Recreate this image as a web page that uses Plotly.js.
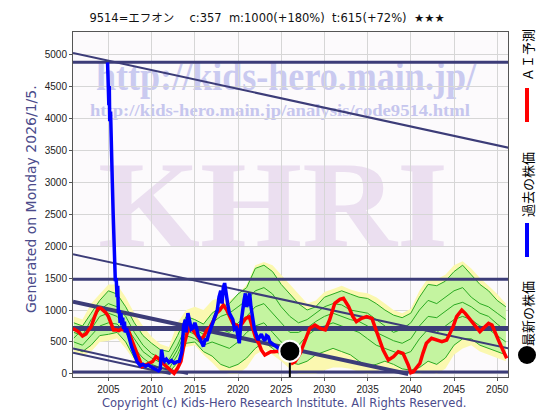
<!DOCTYPE html>
<html><head><meta charset="utf-8">
<script src="https://cdn.plot.ly/plotly-3.0.1.min.js"></script>
<style>html,body{margin:0;padding:0;background:#fff}#chart{width:560px;height:420px}</style>
</head><body><div id="chart"></div>
<script>
// ---- past price (blue) ----
const priceYears = [2004.90,2004.95,2005.00,2005.05,2005.10,2005.15,2005.25,2005.35,2005.45,2005.55,2005.65,2005.72,2005.80,2005.90,2006.00,2006.08,2006.15,2006.25,2006.35,2006.45,2006.55,2006.65,2006.75,2006.85,2006.95,2007.10,2007.30,2007.50,2007.70,2007.90,2008.10,2008.30,2008.50,2008.70,2009.00,2009.30,2009.60,2009.90,2010.20,2010.50,2010.80,2011.00,2011.15,2011.30,2011.50,2011.70,2012.00,2012.30,2012.60,2012.90,2013.20,2013.50,2013.70,2013.90,2014.00,2014.20,2014.40,2014.60,2014.80,2015.00,2015.20,2015.40,2015.60,2015.80,2016.00,2016.20,2016.40,2016.60,2016.80,2017.00,2017.20,2017.40,2017.60,2017.80,2018.00,2018.15,2018.30,2018.45,2018.60,2018.80,2019.00,2019.20,2019.40,2019.60,2019.80,2020.00,2020.15,2020.30,2020.50,2020.70,2020.85,2021.00,2021.15,2021.35,2021.50,2021.70,2021.90,2022.10,2022.30,2022.50,2022.70,2022.90,2023.10,2023.30,2023.50,2023.70,2023.90,2024.10,2024.30,2024.50,2024.70,2024.90,2025.20];
const priceValues = [4870,4300,4650,4200,4500,3950,4100,3700,3000,2500,2100,1800,1450,1500,1200,1380,950,1000,800,950,760,880,700,820,650,720,600,500,420,350,260,200,160,130,150,120,140,110,90,70,50,80,380,250,200,230,180,210,170,190,200,350,750,850,650,950,800,700,720,800,720,600,550,480,430,550,520,620,700,780,850,950,1000,1200,1300,1100,1350,1420,1250,1100,950,900,850,700,720,600,480,750,1000,1150,1260,1050,1100,1260,1050,850,700,620,530,580,620,560,520,600,580,500,480,460,430,427,400,380,370];

// ---- AI forecast (red) ----
const aiYears = [2000.9,2001.5,2002.0,2002.4,2002.7,2003.0,2003.4,2003.8,2004.1,2004.4,2004.7,2005.0,2005.3,2005.6,2005.9,2006.2,2006.5,2006.8,2007.1,2007.4,2007.7,2008.0,2008.3,2008.6,2008.9,2009.3,2009.7,2010.1,2010.5,2010.9,2011.3,2011.7,2012.1,2012.6,2013.0,2013.4,2013.7,2014.1,2014.45,2014.8,2015.2,2015.6,2016.0,2016.4,2016.8,2017.2,2017.5,2017.9,2018.3,2018.7,2019.1,2019.4,2019.8,2020.2,2020.5,2020.9,2021.3,2021.6,2022.0,2022.4,2022.7,2023.1,2023.5,2023.8,2024.2,2024.8,2025.4,2026.0,2026.3,2026.6,2027.2,2027.75,2028.3,2028.9,2029.5,2030.1,2030.6,2031.2,2031.8,2032.2,2032.8,2033.3,2033.7,2034.3,2034.9,2035.5,2035.85,2036.2,2036.8,2037.4,2038.0,2038.55,2039.1,2039.7,2040.0,2040.3,2041.06,2041.4,2041.8,2042.4,2043.0,2043.6,2044.15,2044.5,2044.9,2045.3,2045.9,2046.3,2046.9,2047.5,2048.0,2048.4,2049.0,2049.4,2049.8,2050.3,2051.1];
const aiValues = [713,662,594,625,688,740,896,1026,1030,1000,960,896,792,688,690,678,700,688,700,650,531,427,323,193,115,141,167,193,271,230,167,115,62,10,88,200,427,635,740,688,610,531,583,688,740,844,948,1000,1078,1000,896,792,766,740,792,870,896,740,583,479,375,297,320,349,349,360,330,250,170,192,323,531,714,766,714,688,844,1104,1167,1182,1052,896,818,870,896,870,740,583,375,219,271,349,323,141,20,36,167,323,479,557,531,505,531,635,740,896,1000,948,844,740,661,714,792,766,635,479,245];

// ---- forecast ensemble (green / yellow) ----
const bandYears = [2001,2002,2003,2004,2005,2006,2007,2008,2009,2010,2011,2012,2013,2014,2015,2016,2017,2018,2019,2020,2021,2022,2023,2024,2025,2026,2027,2028,2029,2030,2031,2032,2033,2034,2035,2036,2037,2038,2039,2040,2041,2042,2043,2044,2045,2046,2047,2048,2049,2050,2051];
const envUpper = [900,850,1100,1250,1400,1400,1200,950,750,580,470,420,800,1000,1050,1000,1150,1200,1150,1250,1400,1700,1750,1700,1550,1400,1250,1100,1150,1280,1330,1380,1320,1280,1260,1200,1100,1000,950,1020,1300,1500,1480,1550,1700,1760,1650,1500,1380,1250,1100];
const envLower = [330,280,350,500,520,560,400,200,80,30,0,0,100,420,450,300,180,40,0,0,100,300,380,300,200,80,0,0,0,60,100,100,80,30,0,30,100,50,0,0,0,50,0,80,300,400,450,350,300,250,200];
const ens1 = [800,750,950,1150,1300,1250,1050,800,600,480,380,350,600,900,850,780,950,1050,1100,1250,1350,1650,1700,1600,1400,1250,1100,1000,1050,1200,1250,1300,1250,1200,1180,1100,1000,920,880,950,1200,1400,1380,1450,1600,1700,1550,1400,1300,1150,1050];
const ens2 = [650,600,850,1000,1100,1050,900,650,450,320,250,220,450,750,700,620,800,900,950,1050,1150,1300,1350,1250,1050,900,800,850,950,1050,1100,1080,1000,980,950,850,750,650,700,800,1000,1150,1100,1200,1300,1350,1200,1100,1050,950,850];
const ens3 = [500,450,600,750,800,780,650,400,250,150,100,80,300,600,550,450,500,450,400,500,650,750,800,650,500,400,450,600,700,750,800,750,700,650,550,450,400,350,300,350,550,700,650,750,850,900,850,750,700,600,500];
const ens4 = [400,350,450,600,620,650,500,250,120,60,30,20,180,480,500,350,280,150,100,150,250,400,500,400,280,180,150,200,300,350,400,350,300,200,120,150,200,150,80,60,100,200,150,250,450,550,550,450,400,350,300];
const ens5 = [560,700,700,900,950,900,750,550,350,250,180,150,380,680,620,560,650,700,650,800,900,1050,1100,950,800,650,650,720,820,900,950,900,850,820,750,650,580,520,480,550,750,900,880,980,1080,1120,1050,950,900,780,680];

// ---- latest price ----
const latestYear = [2026.0];
const latestValue = [357];

// ---- trend / support lines (year, value) ----
const levelValues = [4870, 1480, 710, 30];
const diagA_x = [2000.9, 2051.3], diagA_y = [5016, 3536];
const diagB_x = [2000.9, 2051.3], diagB_y = [1870, 402];
const diagC_x = [2000.9, 2039.7], diagC_y = [1130, 0];
const diagD_x = [2000.9, 2014.2], diagD_y = [400, 0];
const diagE_x = [2000.9, 2012.2], diagE_y = [333, 0];

const xMin = 2000.9, xMax = 2051.25, yMin = -47, yMax = 5344;
const navy = '#3c3c78';
const levelWidths = [3, 3, 5, 3];

function ln(x, y, color, width) {
  return {x: x, y: y, type: 'scatter', mode: 'lines', line: {color: color, width: width}, hoverinfo: 'skip', showlegend: false};
}

const traces = [];
traces.push({x: bandYears, y: envLower, type: 'scatter', mode: 'lines', line: {width: 0, color: 'rgba(0,0,0,0)'}, hoverinfo: 'skip'});
traces.push({x: bandYears, y: envUpper, type: 'scatter', mode: 'lines', line: {width: 0, color: 'rgba(0,0,0,0)'}, fill: 'tonexty', fillcolor: '#fbf8b0', hoverinfo: 'skip'});
traces.push(ln(bandYears, ens4, '#2aaa22', 1));
const t1 = ln(bandYears, ens1, '#2aaa22', 1); t1.fill = 'tonexty'; t1.fillcolor = '#c4f4a0';
traces.push(t1);
traces.push(ln(bandYears, ens2, '#2aaa22', 1));
traces.push(ln(bandYears, ens5, '#2aaa22', 1));
traces.push(ln(bandYears, ens3, '#2aaa22', 1));

levelValues.forEach((v, i) => traces.push(ln([xMin, xMax], [v, v], navy, levelWidths[i])));
traces.push(ln(diagA_x, diagA_y, navy, 2));
traces.push(ln(diagB_x, diagB_y, navy, 2));
traces.push(ln(diagC_x, diagC_y, navy, 4));
traces.push(ln(diagD_x, diagD_y, navy, 2));
traces.push(ln(diagE_x, diagE_y, navy, 2));

traces.push(ln(aiYears, aiValues, '#ff0000', 3.5));
traces.push(ln(priceYears, priceValues, '#0000ff', 3.5));
traces.push(ln([latestYear[0], latestYear[0]], [latestValue[0], yMin], '#000000', 2));
traces.push({x: latestYear, y: latestValue, type: 'scatter', mode: 'markers', marker: {size: 21, color: '#000', line: {color: '#fff', width: 2}}, hoverinfo: 'skip'});

const wmSvg = '<svg xmlns="http://www.w3.org/2000/svg" width="435" height="345" viewBox="0 0 435 345">' +
  '<text x="23" y="58" font-family="Liberation Serif, DejaVu Serif, serif" font-weight="bold" font-size="39" fill="#cacaf0" textLength="380" lengthAdjust="spacingAndGlyphs">http://kids-hero.main.jp/</text>' +
  '<text x="17" y="84" font-family="Liberation Serif, DejaVu Serif, serif" font-weight="bold" font-size="16" fill="#c6c6ee" textLength="380" lengthAdjust="spacingAndGlyphs">http://kids-hero.main.jp/analysis/code9514.html</text>' +
  '<text x="25" y="214" font-family="Liberation Serif, DejaVu Serif, serif" font-weight="bold" font-size="122" fill="#ebdff0" textLength="350" lengthAdjust="spacingAndGlyphs">KHRI</text>' +
  '</svg>';

const px = (x) => (x - 73) / 435;
const py = (y) => (377 - y) / 345;
const jp = 'Noto Sans CJK JP, sans-serif';
function ann(text, x, y, angle, font) {
  return {text: text, xref: 'paper', yref: 'paper', x: px(x), y: py(y), xanchor: 'center', yanchor: 'middle', textangle: angle, showarrow: false, font: font};
}

const layout = {
  width: 560, height: 420,
  margin: {l: 73, r: 52, t: 32, b: 43},
  paper_bgcolor: '#ffffff', plot_bgcolor: '#fcfafc',
  showlegend: false,
  title: {text: '9514=エフオン　 c:357  m:1000(+180%)  t:615(+72%)  ★★★', font: {family: 'DejaVu Sans, Noto Sans CJK JP, sans-serif', size: 11.5, color: '#111'}, x: 0.477, xref: 'container', xanchor: 'center', y: 0.957, yref: 'container', yanchor: 'middle'},
  xaxis: {range: [xMin, xMax], tick0: 2000, dtick: 5, showgrid: true, gridcolor: '#d6d6d6', zeroline: false, showline: true, linecolor: '#555', mirror: true, ticks: 'outside', ticklen: 3, tickcolor: '#555', tickfont: {family: 'Liberation Sans, Arial, sans-serif', size: 10, color: '#222'}},
  yaxis: {range: [yMin, yMax], tick0: 0, dtick: 500, showgrid: true, gridcolor: '#d6d6d6', zeroline: false, showline: true, linecolor: '#555', mirror: true, ticks: 'outside', ticklen: 3, tickcolor: '#555', tickfont: {family: 'Liberation Sans, Arial, sans-serif', size: 10, color: '#222'}},
  images: [{source: 'data:image/svg+xml;charset=utf-8,' + encodeURIComponent(wmSvg), xref: 'paper', yref: 'paper', x: 0, y: 1, sizex: 1, sizey: 1, xanchor: 'left', yanchor: 'top', sizing: 'stretch', layer: 'below'}],
  annotations: [
    ann('Generated on Monday 2026/1/5.', 31, 199, -90, {family: 'DejaVu Sans, sans-serif', size: 14, color: '#4b4b8b'}),
    ann('Copyright (c) Kids-Hero Research Institute. All Rights Reserved.', 284, 403, 0, {family: 'DejaVu Sans, sans-serif', size: 11.5, color: '#4b4b8b'}),
    ann('ＡＩ予測', 527, 55, -90, {family: jp, size: 13, color: '#000'}),
    ann('過去の株価', 527, 185, -90, {family: jp, size: 13, color: '#000'}),
    ann('最新の株価', 527, 314, -90, {family: jp, size: 13, color: '#000'})
  ],
  shapes: [
    {type: 'rect', xref: 'paper', yref: 'paper', x0: px(525), x1: px(529), y0: py(122), y1: py(88), fillcolor: '#ff0000', line: {width: 0}},
    {type: 'rect', xref: 'paper', yref: 'paper', x0: px(525), x1: px(529), y0: py(257), y1: py(223), fillcolor: '#0000ff', line: {width: 0}},
    {type: 'circle', xref: 'paper', yref: 'paper', x0: px(518), x1: px(536), y0: py(364), y1: py(346), fillcolor: '#000', line: {width: 0}}
  ]
};

Plotly.newPlot('chart', traces, layout, {displayModeBar: false, staticPlot: true});
</script>
</body></html>
